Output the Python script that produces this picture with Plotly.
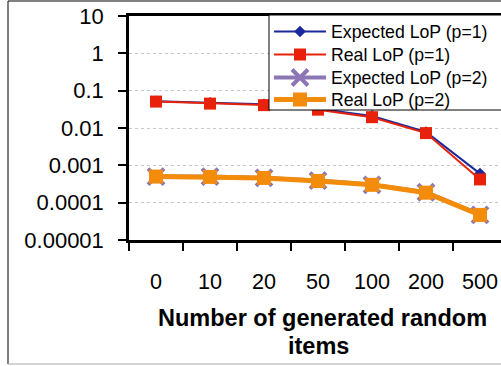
import plotly.graph_objects as go

items = ["0", "10", "20", "50", "100", "200", "500"]
exp_p1 = [0.052, 0.047, 0.043, 0.033, 0.021, 0.0078, 0.0006]
real_p1 = [0.051, 0.045, 0.041, 0.031, 0.0195, 0.0073, 0.00042]
exp_p2 = [0.0005, 0.0005, 0.00046, 0.00039, 0.0003, 0.00019, 0.000047]
real_p2 = [0.0005, 0.00049, 0.00046, 0.00038, 0.0003, 0.000185, 0.000047]
ytick_vals = [10, 1, 0.1, 0.01, 0.001, 0.0001, 0.00001]
ytick_text = ["10", "1", "0.1", "0.01", "0.001", "0.0001", "0.00001"]
series_names = ["Expected LoP (p=1)", "Real LoP (p=1)", "Expected LoP (p=2)", "Real LoP (p=2)"]
title_lines = ["Number of generated random", "items"]

xpos = list(range(len(items)))
FONT = "Liberation Sans, Arial, sans-serif"

W, H = 501, 366
L, T, R, B = 129, 16, 0, 126
pw, ph = W - L - R, H - T - B


def px(xp):
    return (xp - L) / pw


def py(yp):
    return (H - B - yp) / ph


fig = go.Figure()
fig.add_trace(go.Scatter(x=xpos, y=exp_p1, name=series_names[0], mode="lines+markers",
                         legend="legend",
                         line=dict(color="#1a2a9a", width=2),
                         marker=dict(symbol="diamond", size=9, color="#1a2a9a")))
fig.add_trace(go.Scatter(x=xpos, y=real_p1, name=series_names[1], mode="lines+markers",
                         legend="legend2",
                         line=dict(color="#e8220a", width=2),
                         marker=dict(symbol="square", size=12, color="#e8220a")))
fig.add_trace(go.Scatter(x=xpos, y=exp_p2, name=series_names[2], mode="lines+markers",
                         legend="legend3",
                         line=dict(color="#8c76b5", width=4),
                         marker=dict(symbol="x-thin", size=16, color="#8c76b5",
                                     line=dict(color="#8c76b5", width=4))))
fig.add_trace(go.Scatter(x=xpos, y=real_p2, name=series_names[3], mode="lines+markers",
                         legend="legend4",
                         line=dict(color="#f28c0a", width=5),
                         marker=dict(symbol="square", size=14, color="#f28c0a")))

row_y = [32, 55, 78, 100]


def legend_cfg(yc):
    return dict(x=px(269), y=py(yc), xanchor="left", yanchor="middle",
                bgcolor="rgba(0,0,0,0)", borderwidth=0,
                font=dict(size=17.7, family=FONT, color="black"), itemwidth=52)


fig.update_layout(
    width=W, height=H,
    margin=dict(l=L, r=R, t=T, b=B, autoexpand=False),
    paper_bgcolor="white", plot_bgcolor="white",
    font=dict(family=FONT, color="black", size=18),
    showlegend=True,
    legend=legend_cfg(row_y[0]),
    legend2=legend_cfg(row_y[1]),
    legend3=legend_cfg(row_y[2]),
    legend4=legend_cfg(row_y[3]),
    xaxis=dict(
        range=[-0.5, -0.5 + pw / 54.0],
        tickvals=xpos, ticktext=items, ticks="",
        tickfont=dict(size=21.6),
        ticklabelstandoff=20,
        showline=True, linecolor="black", linewidth=2.5, mirror=True,
        showgrid=False, zeroline=False,
        minor=dict(tickvals=[i - 0.5 for i in range(len(items))], ticks="outside",
                   ticklen=8, tickwidth=1.5, tickcolor="black", showgrid=False),
    ),
    yaxis=dict(
        type="log", range=[-5, 1],
        tickvals=ytick_vals, ticktext=ytick_text,
        ticks="outside", ticklen=8, tickwidth=1.5, tickcolor="black",
        tickfont=dict(size=22),
        ticklabelstandoff=10,
        showline=True, linecolor="black", linewidth=2.5,
        showgrid=True, gridcolor="#c8c8c8", griddash="dot", gridwidth=1,
        zeroline=False,
    ),
)

# legend frame
fig.add_shape(type="rect", xref="paper", yref="paper", x0=px(269), x1=px(506), y0=py(15), y1=py(110),
              fillcolor="white", line=dict(color="black", width=1), layer="above")

# axis title lines
for txt, yc, xc in zip(title_lines, [318, 346], [322, 318]):
    fig.add_annotation(text="<b>" + txt + "</b>", xref="paper", yref="paper",
                       x=px(xc), y=py(yc), xanchor="center", yanchor="middle", showarrow=False,
                       font=dict(size=23.5, family=FONT))

# outer frame
fig.add_shape(type="line", xref="paper", yref="paper", x0=px(8), x1=px(8), y0=py(1), y1=py(364),
              line=dict(color="black", width=1))
fig.add_shape(type="line", xref="paper", yref="paper", x0=px(8), x1=px(505), y0=py(1), y1=py(1),
              line=dict(color="black", width=1))
fig.add_shape(type="line", xref="paper", yref="paper", x0=px(8), x1=px(505), y0=py(364), y1=py(364),
              line=dict(color="#aaaaaa", width=1))

fig.write_html("out.html")
